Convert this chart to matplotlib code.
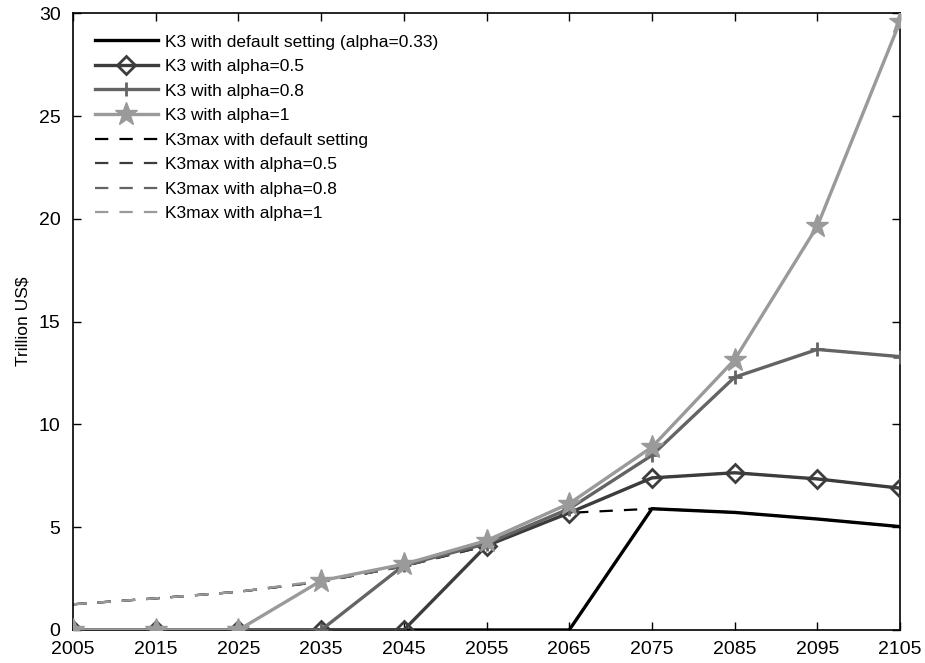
import matplotlib.pyplot as plt
import numpy as np

plt.rcParams['font.family'] = ['Liberation Sans', 'DejaVu Sans']

# Years on the x axis
years = [2005, 2015, 2025, 2035, 2045, 2055, 2065, 2075, 2085, 2095, 2105]

# K3 (trillion US$) for each alpha
k3_default = [0, 0, 0, 0, 0, 0, 0, 5.9, 5.72, 5.4, 5.03]
k3_a05 = [0, 0, 0, 0, 0, 4.1, 5.7, 7.4, 7.65, 7.35, 6.9]
k3_a08 = [0, 0, 0, 0, 3.15, 4.2, 5.9, 8.5, 12.3, 13.65, 13.3]
k3_a1 = [0, 0, 0, 2.4, 3.2, 4.35, 6.15, 8.9, 13.15, 19.65, 29.6]

# K3max for each alpha
k3max_default = [1.25, 1.54, 1.86, 2.35, 3.1, 4.1, 5.7, 5.9, 5.72, 5.4, 5.03]
k3max_a05 = [1.25, 1.54, 1.86, 2.35, 3.1, 4.1, 5.7, 7.4, 7.65, 7.35, 6.9]
k3max_a08 = [1.25, 1.54, 1.86, 2.35, 3.1, 4.2, 5.9, 8.5, 12.3, 13.65, 13.3]
k3max_a1 = [1.25, 1.54, 1.86, 2.4, 3.2, 4.35, 6.15, 8.9, 13.15, 19.65, 29.6]

labels = ["K3 with default setting (alpha=0.33)", "K3 with alpha=0.5",
          "K3 with alpha=0.8", "K3 with alpha=1",
          "K3max with default setting", "K3max with alpha=0.5",
          "K3max with alpha=0.8", "K3max with alpha=1"]

greys = ['#000000', '#3c3c3c', '#646464', '#9a9a9a']

fig = plt.figure(figsize=(9.25, 6.63), dpi=100)
ax = fig.add_axes([0.079, 0.0498, 0.894, 0.930])

solid = [k3_default, k3_a05, k3_a08, k3_a1]
dashed = [k3max_default, k3max_a05, k3max_a08, k3max_a1]

ax.plot(years, solid[0], color=greys[0], lw=2.4, label=labels[0], zorder=3)
ax.plot(years, solid[1], color=greys[1], lw=2.4, marker='D', ms=9,
        mfc='none', mew=2, label=labels[1], zorder=3)
ax.plot(years, solid[2], color=greys[2], lw=2.4, marker='+', ms=10,
        mew=2, label=labels[2], zorder=3)
ax.plot(years, solid[3], color=greys[3], lw=2.4, marker='*', ms=17,
        label=labels[3], zorder=3)
for i in range(4):
    ax.plot(years, dashed[i], color=greys[i], lw=1.6, ls=(0, (6, 5)),
            label=labels[4 + i], zorder=2)

ax.set_xlim(2005, 2105)
ax.set_ylim(0, 30)
ax.set_xticks(np.arange(2005, 2106, 10))
ax.set_yticks(np.arange(0, 31, 5))
ax.tick_params(direction='in', top=True, right=True, labelsize=14,
               length=6, width=1)
ax.tick_params(axis='x', pad=8)
ax.tick_params(axis='y', pad=9)
for s in ax.spines.values():
    s.set_linewidth(1.2)
ax.set_ylabel("Trillion US\\$", fontsize=12.5, labelpad=6)

ax.legend(loc='upper left', bbox_to_anchor=(0.0266, 0.966), frameon=False,
          fontsize=12.5, handlelength=3.6, labelspacing=0.54, borderpad=0,
          borderaxespad=0, handletextpad=0.4)

plt.savefig("out.png", dpi=100)
